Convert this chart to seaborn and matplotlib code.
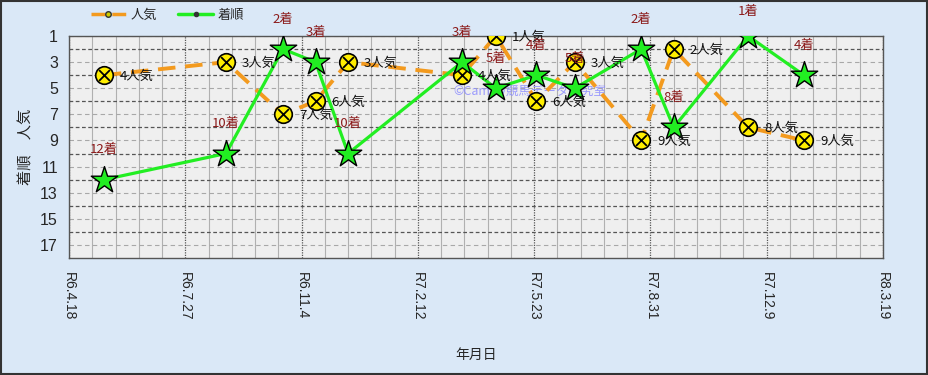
import matplotlib
matplotlib.use("Agg")
import matplotlib.pyplot as plt
from matplotlib.patches import Rectangle
from matplotlib.lines import Line2D
import seaborn as sns
import pandas as pd

# ---- data ----
race_dates = ["2024-05-18", "2024-08-31", "2024-10-19", "2024-11-16", "2024-12-14",
              "2025-03-22", "2025-04-20", "2025-05-25", "2025-06-27", "2025-08-23",
              "2025-09-20", "2025-11-23", "2026-01-10"]
popularity = [4, 3, 7, 6, 3, 4, 1, 6, 3, 9, 2, 8, 9]
finish = [12, 10, 2, 3, 10, 3, 5, 4, 5, 2, 8, 1, 4]
tick_dates = ["2024-04-18", "2024-07-27", "2024-11-04", "2025-02-12",
              "2025-05-23", "2025-08-31", "2025-12-09", "2026-03-19"]
tick_labels = ["R6.4.18", "R6.7.27", "R6.11.4", "R7.2.12",
               "R7.5.23", "R7.8.31", "R7.12.9", "R8.3.19"]
y_ticks = [1, 3, 5, 7, 9, 11, 13, 15, 17]

df = pd.DataFrame({"date": pd.to_datetime(race_dates),
                   "pop": popularity, "fin": finish})
ticks = pd.to_datetime(tick_dates)

sns.set_style("white")
plt.rcParams["font.family"] = ["Noto Sans CJK JP", "DejaVu Sans"]

fig = plt.figure(figsize=(9.29, 3.75), dpi=100, facecolor="#dae8f7")
ax = fig.add_axes([69 / 929, 1 - 258 / 375, (883 - 69) / 929, (258 - 36) / 375])
ax.set_facecolor("#efefef")

orange = "#f39a1e"
green = "#22ee22"
sns.lineplot(data=df, x="date", y="pop", ax=ax, color=orange, lw=2.8,
             linestyle=(0, (4.5, 2.5)), zorder=3, legend=False)
sns.lineplot(data=df, x="date", y="fin", ax=ax, color=green, lw=2.3,
             zorder=4, legend=False)
sns.scatterplot(data=df, x="date", y="pop", ax=ax, marker="o", s=160,
                color="#ffee00", edgecolor="black", linewidth=1.2, zorder=5)
sns.scatterplot(data=df, x="date", y="pop", ax=ax, marker="x", s=60,
                color="black", linewidth=1.3, zorder=6)
sns.scatterplot(data=df, x="date", y="fin", ax=ax, marker="*", s=400,
                color="#22ee22", edgecolor="black", linewidth=1.0, zorder=7)

for d, p, f in zip(df["date"], df["pop"], df["fin"]):
    ax.annotate(f"{p}人気", (d, p), xytext=(16, -1), textcoords="offset pixels",
                ha="left", va="center", fontsize=9.5, color="#111111", zorder=8)
    ax.annotate(f"{f}着", (d, f), xytext=(0, 30 if f > 1 else 25),
                textcoords="offset pixels", ha="center", va="center",
                fontsize=9.5, color="#8b1a1a", zorder=8, annotation_clip=False)

ax.text(0.472, 0.75, "©Camiの競馬データ研究室", transform=ax.transAxes,
        color="#8c8cff", alpha=0.85, fontsize=9, ha="left", va="center", zorder=2)

ax.set_xlim(ticks[0], ticks[-1])
ax.set_ylim(18, 1)
ax.set_xticks(ticks)
ax.set_xticklabels(tick_labels, rotation=-90, fontsize=10,
                   family=["Liberation Sans", "DejaVu Sans"])
minor = pd.date_range(ticks[0], ticks[-1], freq="20D")
ax.set_xticks(minor, minor=True)
ax.set_yticks(y_ticks)
ax.set_yticklabels([str(v) for v in y_ticks], fontsize=11.5,
                   family=["Liberation Sans", "DejaVu Sans"])
ax.set_yticks(range(2, 18, 2), minor=True)
ax.tick_params(axis="both", which="both", length=0, pad=8)
ax.tick_params(axis="x", pad=10)

ax.grid(axis="x", which="major", color="#555555", lw=0.9, ls=(0, (1, 1)))
ax.grid(axis="x", which="minor", color="#b0b0b0", lw=0.8, ls="-")
ax.grid(axis="y", which="major", color="#a8a8a8", lw=0.8, ls=(0, (4, 3)))
ax.grid(axis="y", which="minor", color="#555555", lw=0.9, ls=(0, (3, 2)))
ax.set_axisbelow(True)
for s in ax.spines.values():
    s.set_color("#555555")
    s.set_linewidth(1.0)

ax.set_xlabel("年月日", fontsize=10, labelpad=20)
ax.set_ylabel("着順　人気", fontsize=11, labelpad=4)

handles = [Line2D([], [], color=orange, lw=2.5, ls=(0, (4, 2)), marker="o",
                  markersize=4, markerfacecolor="#cccc00", markeredgecolor="#333333"),
           Line2D([], [], color=green, lw=2.5, marker="o", markersize=3,
                  markerfacecolor="#333333", markeredgecolor="#333333")]
fig.legend(handles, ["人気", "着順"], loc="center left",
           bbox_to_anchor=(88 / 929, 1 - 15 / 375), ncol=2, frameon=False,
           fontsize=9.5, handlelength=2.7, columnspacing=1.6, handletextpad=0.3,
           borderaxespad=0, borderpad=0.2)

fig.add_artist(Rectangle((0.001, 0.002), 0.997, 0.995, transform=fig.transFigure,
                         fill=False, edgecolor="#333333", lw=1.5))

fig.savefig("out.png", dpi=100, facecolor=fig.get_facecolor())
